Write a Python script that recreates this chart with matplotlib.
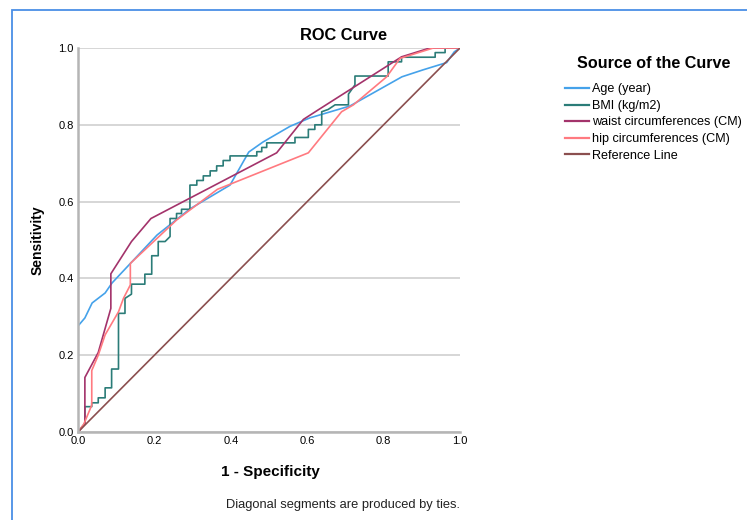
import matplotlib.pyplot as plt
from matplotlib.patches import Rectangle

plt.rcParams["font.family"] = ["Liberation Sans", "DejaVu Sans"]

# ROC points (1 - specificity, sensitivity)
age_x = [0, 0, 0.018, 0.037, 0.071, 0.089, 0.207, 0.293, 0.398, 0.447, 0.484,
         0.555, 0.607, 0.712, 0.848, 0.903, 0.965, 0.985, 1.0]
age_y = [0, 0.276, 0.297, 0.336, 0.362, 0.388, 0.513, 0.581, 0.643, 0.729, 0.755,
         0.796, 0.818, 0.849, 0.925, 0.943, 0.962, 0.99, 1.0]

bmi_x = [0, 0.018, 0.018, 0.036, 0.036, 0.053, 0.053, 0.071, 0.071, 0.088, 0.088,
         0.106, 0.106, 0.123, 0.123, 0.140, 0.140, 0.175, 0.175, 0.193, 0.193,
         0.210, 0.210, 0.228, 0.241, 0.241, 0.258, 0.258, 0.271, 0.271, 0.293,
         0.293, 0.311, 0.311, 0.328, 0.328, 0.346, 0.346, 0.363, 0.363, 0.380,
         0.380, 0.398, 0.398, 0.468, 0.468, 0.481, 0.481, 0.494, 0.494, 0.568,
         0.568, 0.603, 0.603, 0.620, 0.620, 0.638, 0.638, 0.655, 0.673, 0.708,
         0.708, 0.725, 0.725, 0.812, 0.812, 0.847, 0.847, 0.935, 0.935, 0.961,
         0.961, 1.0]
bmi_y = [0, 0.023, 0.066, 0.066, 0.076, 0.076, 0.089, 0.089, 0.115, 0.115, 0.164,
         0.164, 0.309, 0.309, 0.348, 0.359, 0.385, 0.385, 0.411, 0.411, 0.459,
         0.459, 0.496, 0.496, 0.509, 0.556, 0.556, 0.569, 0.569, 0.580, 0.580,
         0.643, 0.643, 0.655, 0.655, 0.667, 0.667, 0.680, 0.680, 0.693, 0.693,
         0.707, 0.707, 0.719, 0.719, 0.730, 0.730, 0.741, 0.741, 0.753, 0.753,
         0.767, 0.767, 0.788, 0.788, 0.800, 0.800, 0.834, 0.840, 0.852, 0.852,
         0.880, 0.904, 0.927, 0.927, 0.964, 0.964, 0.976, 0.976, 0.988, 0.988,
         1.0, 1.0]

waist_x = [0, 0.018, 0.018, 0.053, 0.086, 0.086, 0.140, 0.191, 0.520, 0.590,
           0.629, 0.847, 0.921, 1.0]
waist_y = [0, 0.02, 0.142, 0.207, 0.322, 0.412, 0.496, 0.556, 0.727, 0.814,
           0.839, 0.977, 1.0, 1.0]

hip_x = [0, 0.015, 0.036, 0.036, 0.053, 0.071, 0.106, 0.119, 0.137, 0.137,
         0.258, 0.365, 0.603, 0.690, 0.721, 0.808, 0.843, 0.930, 1.0]
hip_y = [0, 0.02, 0.07, 0.16, 0.20, 0.253, 0.313, 0.348, 0.383, 0.439,
         0.552, 0.632, 0.727, 0.834, 0.852, 0.925, 0.973, 1.0, 1.0]

ref_x = [0, 1]
ref_y = [0, 1]

names = ["Age (year)", "BMI (kg/m2)", "waist circumferences (CM)",
         "hip circumferences (CM)", "Reference Line"]
colors = ["#45a2ea", "#2b7c78", "#a3336b", "#ff7a80", "#8b4f4f"]

fig = plt.figure(figsize=(7.47, 5.2), dpi=100)
ax = fig.add_axes([78 / 747, 88 / 520, 382 / 747, 384 / 520])

series = [(age_x, age_y), (bmi_x, bmi_y), (waist_x, waist_y), (hip_x, hip_y), (ref_x, ref_y)]
for (xs, ys), name, c in zip(series, names, colors):
    ax.plot(xs, ys, color=c, lw=1.2, label=name)

ax.set_xlim(0, 1)
ax.set_ylim(0, 1)
ax.set_xticks([0, 0.2, 0.4, 0.6, 0.8, 1.0])
ax.set_yticks([0, 0.2, 0.4, 0.6, 0.8, 1.0])
ax.tick_params(length=0, labelsize=8, pad=3)
ax.grid(axis="y", color="#cfcfcf", lw=1.2)
ax.set_axisbelow(True)
for s in ["top", "right"]:
    ax.spines[s].set_visible(False)
for s in ["left", "bottom"]:
    ax.spines[s].set_color("#b5b5b5")
    ax.spines[s].set_linewidth(1.8)

fig.text(344 / 747, 1 - 35 / 520, "ROC Curve", fontsize=11.8, fontweight="bold",
         ha="center", va="center")
ax.set_ylabel("Sensitivity", fontsize=10, fontweight="bold", labelpad=10)
fig.text(270 / 747, 1 - 472 / 520, "1 - Specificity", fontsize=11, fontweight="bold",
         ha="center", va="center")
fig.text(343 / 747, 1 - 505 / 520, "Diagonal segments are produced by ties.",
         fontsize=9.3, ha="center", va="center", color="#222222")

# legend title drawn separately so the gap below it matches
fig.text(654 / 747, 1 - 63 / 520, "Source of the Curve", fontsize=11.6,
         fontweight="bold", ha="center", va="center")
leg = fig.legend(loc="upper left", bbox_to_anchor=(554 / 747, 1 - 72 / 520),
                 frameon=False, fontsize=9.1,
                 handlelength=1.9, handletextpad=0.2, labelspacing=0.36)
for line in leg.get_lines():
    line.set_linewidth(1.6)

fig.patches.append(Rectangle((12 / 747, -0.1), 1.2, 1 - 10 / 520 + 0.1,
                             transform=fig.transFigure, fill=False,
                             edgecolor="#4a8fe6", lw=1.3))

fig.savefig("out.png", dpi=100)
